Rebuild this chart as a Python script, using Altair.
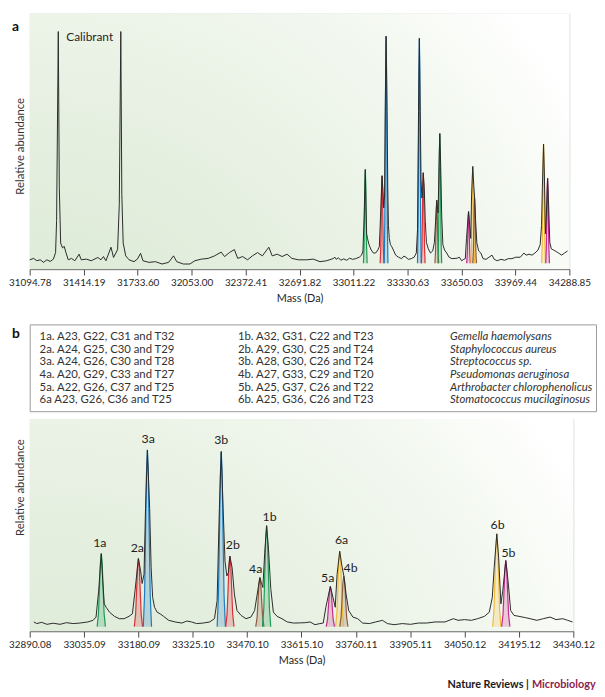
import altair as alt
import pandas as pd

# ---------------- data ----------------
spectrum_mass = [
    31095, 31118, 31137, 31157, 31177, 31196, 31216, 31235, 31248, 31254, 31264, 31270,
    31278, 31289, 31299, 31309, 31323, 31342, 31362, 31387, 31400, 31430, 31459, 31498,
    31517, 31531, 31546, 31576, 31591, 31615, 31625, 31634, 31640, 31648, 31663, 31683,
    31712, 31732, 31751, 31765, 31800, 31839, 31878, 31917, 31946, 31965, 32004, 32043,
    32072, 32111, 32151, 32189, 32228, 32248, 32277, 32306, 32326, 32355, 32384, 32413,
    32443, 32472, 32510, 32530, 32560, 32589, 32618, 32647, 32686, 32735, 32773, 32813,
    32852,
    32890, 32901, 32909, 32922, 32936, 32953, 32971, 32988, 33006, 33024, 33045, 33059,
    33067, 33074, 33081, 33085, 33089, 33094, 33103, 33116, 33129, 33142, 33155, 33164,
    33171, 33180, 33186, 33190, 33195, 33199, 33204, 33210, 33214, 33218, 33223, 33230,
    33238, 33247, 33261, 33278, 33296, 33309, 33322, 33335, 33353, 33370, 33383, 33390,
    33396, 33401, 33406, 33411, 33416, 33420, 33424, 33430, 33436, 33443, 33454, 33467,
    33480, 33490, 33497, 33504, 33508, 33512, 33517, 33522, 33527, 33533, 33540, 33550,
    33563, 33577, 33594, 33612, 33625, 33638, 33651, 33664, 33673, 33680, 33692, 33699,
    33705, 33710, 33717, 33723, 33728, 33734, 33741, 33752, 33765, 33778, 33796, 33813,
    33831, 33844, 33862, 33884, 33906, 33927, 33949, 33971, 33998, 34020, 34033, 34050,
    34068, 34085, 34103, 34116, 34124, 34129, 34136, 34141, 34147, 34152, 34160, 34166,
    34173, 34182, 34195, 34212, 34225, 34243, 34260, 34278, 34294, 34312, 34325, 34338,
]
spectrum_abund = [
    4.0, 4.6, 3.6, 4.0, 2.9, 4.0, 3.3, 4.3, 7.1, 20.9, 102.0, 34.9,
    11.2, 9.1, 9.8, 7.1, 4.0, 4.6, 3.6, 6.4, 4.0, 4.3, 3.6, 5.0,
    4.0, 5.4, 3.6, 9.4, 5.0, 8.4, 27.8, 102.0, 32.0, 11.2, 5.7, 4.0,
    3.2, 4.3, 6.8, 3.6, 2.9, 3.2, 2.2, 2.9, 5.7, 3.2, 2.2, 2.2,
    3.6, 4.3, 4.6, 5.7, 7.3, 5.4, 7.1, 8.4, 4.6, 5.4, 4.0, 5.7,
    7.1, 5.7, 9.4, 5.7, 6.4, 5.4, 6.4, 4.6, 4.0, 4.0, 4.3, 3.2,
    3.6,
    4.5, 5.1, 4.2, 4.9, 3.8, 4.4, 3.8, 4.7, 4.2, 4.5, 5.1, 6.0,
    7.8, 22.3, 42.8, 27.8, 15.1, 13.2, 10.5, 8.2, 6.9, 6.9, 8.2, 9.6,
    22.3, 40.1, 33.2, 26.3, 31.4, 67.7, 100.0, 67.7, 35.0, 18.7, 13.2, 10.5,
    9.6, 8.2, 6.0, 5.1, 4.5, 5.6, 5.1, 4.2, 4.5, 5.1, 6.9, 16.9,
    67.7, 99.1, 67.7, 38.6, 30.5, 32.3, 41.4, 35.0, 20.5, 11.4, 8.7, 6.9,
    7.8, 11.4, 20.5, 29.6, 26.8, 24.1, 43.5, 58.2, 45.3, 23.6, 10.5, 8.2,
    6.9, 5.1, 4.5, 4.6, 4.7, 5.1, 3.6, 4.2, 4.5, 13.2, 24.7, 18.7,
    13.2, 31.4, 44.1, 35.9, 30.5, 20.5, 11.4, 7.8, 6.9, 4.5, 4.2, 5.1,
    6.0, 4.2, 3.6, 4.2, 3.8, 4.5, 4.5, 5.1, 5.1, 6.9, 6.0, 6.4,
    6.0, 6.9, 8.2, 10.5, 18.7, 35.0, 53.7, 40.4, 15.1, 22.3, 39.0, 27.8,
    11.4, 8.7, 8.2, 7.5, 6.9, 6.0, 6.9, 7.8, 6.4, 6.9, 6.0, 5.1,
]

peak_names = ["1a", "2a", "3a", "3b", "2b", "4a", "1b", "5a", "6a", "4b", "6b", "5b"]
peak_mass = [33081, 33180, 33204, 33401, 33424, 33504, 33522, 33692, 33717, 33728, 34136, 34160]
peak_height = [42.8, 40.1, 100.0, 99.1, 41.4, 29.6, 58.2, 24.7, 44.1, 30.5, 53.7, 39.0]
peak_group = ["1", "2", "3", "3", "2", "4", "1", "5", "6", "4", "6", "5"]
label_mass = [33077, 33177, 33206, 33401, 33432, 33493, 33530, 33685, 33722, 33746, 34138, 34167]
label_abund = [48.4, 45.7, 106.2, 105.6, 47.4, 34.3, 63.1, 29.4, 50.1, 34.8, 58.8, 43.0]
# shape of one coloured peak (mass offset in Da, fraction of peak height)
profile_offset = [-11, -7.5, -5, -2.5, 0, 2.5, 5, 7.5, 11]
profile_frac = [0, 0.18, 0.5, 0.86, 1, 0.86, 0.5, 0.18, 0]
peak_base = 2.5

group_ids = ["1", "2", "3", "4", "5", "6"]
group_colors = ["#1f9a55", "#dc2f37", "#1c7cc2", "#8e5c3d", "#c62a8d", "#f2bb3a"]

ticks_a = [31094.78, 31414.19, 31733.60, 32053.00, 32372.41, 32691.82,
           33011.22, 33330.63, 33650.03, 33969.44, 34288.85]
ticks_b = [32890.08, 33035.09, 33180.09, 33325.10, 33470.10, 33615.10,
           33760.11, 33905.11, 34050.12, 34195.12, 34340.12]

calibrant_text = ["Calibrant"]
calibrant_mass = [31311]
calibrant_abund = [99.5]

legend_col1 = ["1a. A23, G22, C31 and T32", "2a. A24, G25, C30 and T29",
               "3a. A24, G26, C30 and T28", "4a. A20, G29, C33 and T27",
               "5a. A22, G26, C37 and T25", "6a A23, G26, C36 and T25"]
legend_col2 = ["1b. A32, G31, C22 and T23", "2b. A29, G30, C25 and T24",
               "3b. A28, G30, C26 and T24", "4b. A27, G33, C29 and T20",
               "5b. A25, G37, C26 and T22", "6b. A25, G36, C26 and T23"]
legend_col3 = ["Gemella haemolysans", "Staphylococcus aureus", "Streptococcus sp.",
               "Pseudomonas aeruginosa", "Arthrobacter chlorophenolicus",
               "Stomatococcus mucilaginosus"]

# ---------------- tables ----------------
spec = pd.DataFrame({"mass": spectrum_mass, "abund": spectrum_abund})

rows = []
for name, m, h, g in zip(peak_names, peak_mass, peak_height, peak_group):
    for off, fr in zip(profile_offset, profile_frac):
        rows.append({"peak": name, "group": g, "mass": m + off,
                     "abund": peak_base + fr * (h - peak_base), "base": peak_base})
peaks = pd.DataFrame(rows)
labels = pd.DataFrame({"name": peak_names, "mass": label_mass, "abund": label_abund})

FONT = "Lato"
TXT = "#262626"
cscale = alt.Scale(domain=group_ids, range=group_colors)

grad = alt.RadialGradient(
    gradient="radial",
    stops=[alt.GradientStop(offset=0, color="#d9e8d2"),
           alt.GradientStop(offset=0.45, color="#e5efe0"),
           alt.GradientStop(offset=0.8, color="#f3f8f0"),
           alt.GradientStop(offset=1, color="#ffffff")],
    x1=0.02, y1=1.0, r1=0, x2=0.02, y2=1.0, r2=1.15)


def panel(ticks, ymax, width, height, title_y, lo, hi, letter, extra):
    xs = alt.Scale(domain=[ticks[0], ticks[-1]], nice=False, zero=False)
    ys = alt.Scale(domain=[0, ymax], nice=False, zero=True)
    xaxis = alt.Axis(values=ticks, format=".2f", grid=False, tickSize=6,
                     tickColor="#4a4a4a", domainColor="#4a4a4a", tickWidth=1,
                     labelFont=FONT, labelFontSize=10, labelColor=TXT,
                     labelPadding=3, labelFlush=False, labelOverlap=False,
                     title=["Mass (Da)", " "], titleFont=FONT, titleFontSize=11,
                     titleFontWeight="normal", titleColor=TXT, titlePadding=5,
                     titleLineHeight=13)
    yaxis = alt.Axis(labels=False, ticks=False, domain=False, grid=False,
                     minExtent=0, title="Relative abundance", titleFont=FONT,
                     titleFontSize=11.5, titleFontWeight="normal", titleColor="#333",
                     titlePadding=4, titleY=title_y)
    X = alt.X("mass:Q", scale=xs, axis=xaxis)
    Y = alt.Y("abund:Q", scale=ys, axis=yaxis)

    bg_df = pd.DataFrame({"mass": [ticks[0]], "mass2": [ticks[-1]],
                          "abund": [0], "abund2": [ymax]})
    bg = alt.Chart(bg_df).mark_rect(color=grad).encode(
        x=X, x2="mass2:Q", y=Y, y2="abund2:Q")

    pk = alt.Chart(peaks)
    areas = pk.mark_area(opacity=0.22).encode(
        x=X, y=Y, y2="base:Q",
        color=alt.Color("group:N", scale=cscale, legend=None), detail="peak:N")
    lines = pk.mark_line(strokeWidth=1.2).encode(
        x=X, y=Y, color=alt.Color("group:N", scale=cscale, legend=None),
        detail="peak:N")
    trace = alt.Chart(spec).transform_filter(
        (alt.datum.mass >= lo) & (alt.datum.mass <= hi)
    ).mark_line(color="#2a2a2a", strokeWidth=1).encode(x=X, y=Y)

    let = alt.Chart(pd.DataFrame({"t": [letter]})).mark_text(
        font=FONT, fontSize=14, fontWeight="bold", color="#111",
        align="left", baseline="middle").encode(
        x=alt.value(-18), y=alt.value(14), text="t:N")

    layers = [bg, areas, lines, trace]
    for e in extra:
        layers.append(e(X, Y))
    if letter:
        layers.append(let)
    return alt.layer(*layers).properties(width=width, height=height)


def calibrant_layer(X, Y):
    return alt.Chart(pd.DataFrame({"t": calibrant_text, "mass": calibrant_mass,
                                   "abund": calibrant_abund})).mark_text(
        font=FONT, fontSize=12, color=TXT, align="left", baseline="middle").encode(
        x=X, y=Y, text="t:N")


def peak_label_layer(X, Y):
    return alt.Chart(labels).mark_text(
        font=FONT, fontSize=12.5, color="#1e1e1e", align="center",
        baseline="middle").encode(x=X, y=Y, text="name:N")


def footer_layer(X, Y):
    a = alt.Chart(pd.DataFrame({"t": ["Nature Reviews |"]})).mark_text(
        font=FONT, fontSize=11, fontWeight="bold", color="#1a1a1a",
        align="right", baseline="middle").encode(
        x=alt.value(506), y=alt.value(270), text="t:N")
    b = alt.Chart(pd.DataFrame({"t": ["Microbiology"]})).mark_text(
        font=FONT, fontSize=11, fontWeight="bold", color="#8c1d50",
        align="left", baseline="middle").encode(
        x=alt.value(509), y=alt.value(270), text="t:N")
    return alt.layer(a, b)


panel_a = panel(ticks_a, 109.7, 547, 259, 134, ticks_a[0] - 1, ticks_a[-1], "a",
                [calibrant_layer])
panel_b = panel(ticks_b, 117.0, 551, 215, 69, ticks_b[0], ticks_b[-1] + 1, "",
                [peak_label_layer, footer_layer])

# legend box
leg = pd.DataFrame({"row": list(range(6)), "c1": legend_col1,
                    "c2": legend_col2, "c3": legend_col3})
ry = alt.Y("row:Q", scale=alt.Scale(domain=[-1.02, 5.86], reverse=True, nice=False,
                                     zero=False), axis=None)
base = alt.Chart(leg)
t1 = base.mark_text(font=FONT, fontSize=11.5, color="#333", align="left",
                    baseline="middle").encode(x=alt.value(10), y=ry, text="c1:N")
t2 = base.mark_text(font=FONT, fontSize=11.5, color="#333", align="left",
                    baseline="middle").encode(x=alt.value(211), y=ry, text="c2:N")
t3 = base.mark_text(font=FONT, fontSize=11.5, color="#333", align="left",
                    fontStyle="italic", baseline="middle").encode(
    x=alt.value(426), y=ry, text="c3:N")
bl = alt.Chart(pd.DataFrame({"t": ["b"]})).mark_text(
    font=FONT, fontSize=14, fontWeight="bold", color="#111", align="left",
    baseline="middle").encode(x=alt.value(-18), y=alt.value(10), text="t:N")
box = alt.layer(t1, t2, t3, bl).properties(
    width=574, height=88,
    view=alt.ViewBackground(stroke="#9a9a9a", strokeWidth=1, fill="white"))

chart = alt.vconcat(panel_a, box, panel_b, spacing=6).properties(
    padding={"left": 0, "top": 0, "right": 0, "bottom": 0}
).configure_view(stroke=None).configure(font=FONT)

chart.save("out.html", embed_options={"renderer": "svg", "actions": False})
